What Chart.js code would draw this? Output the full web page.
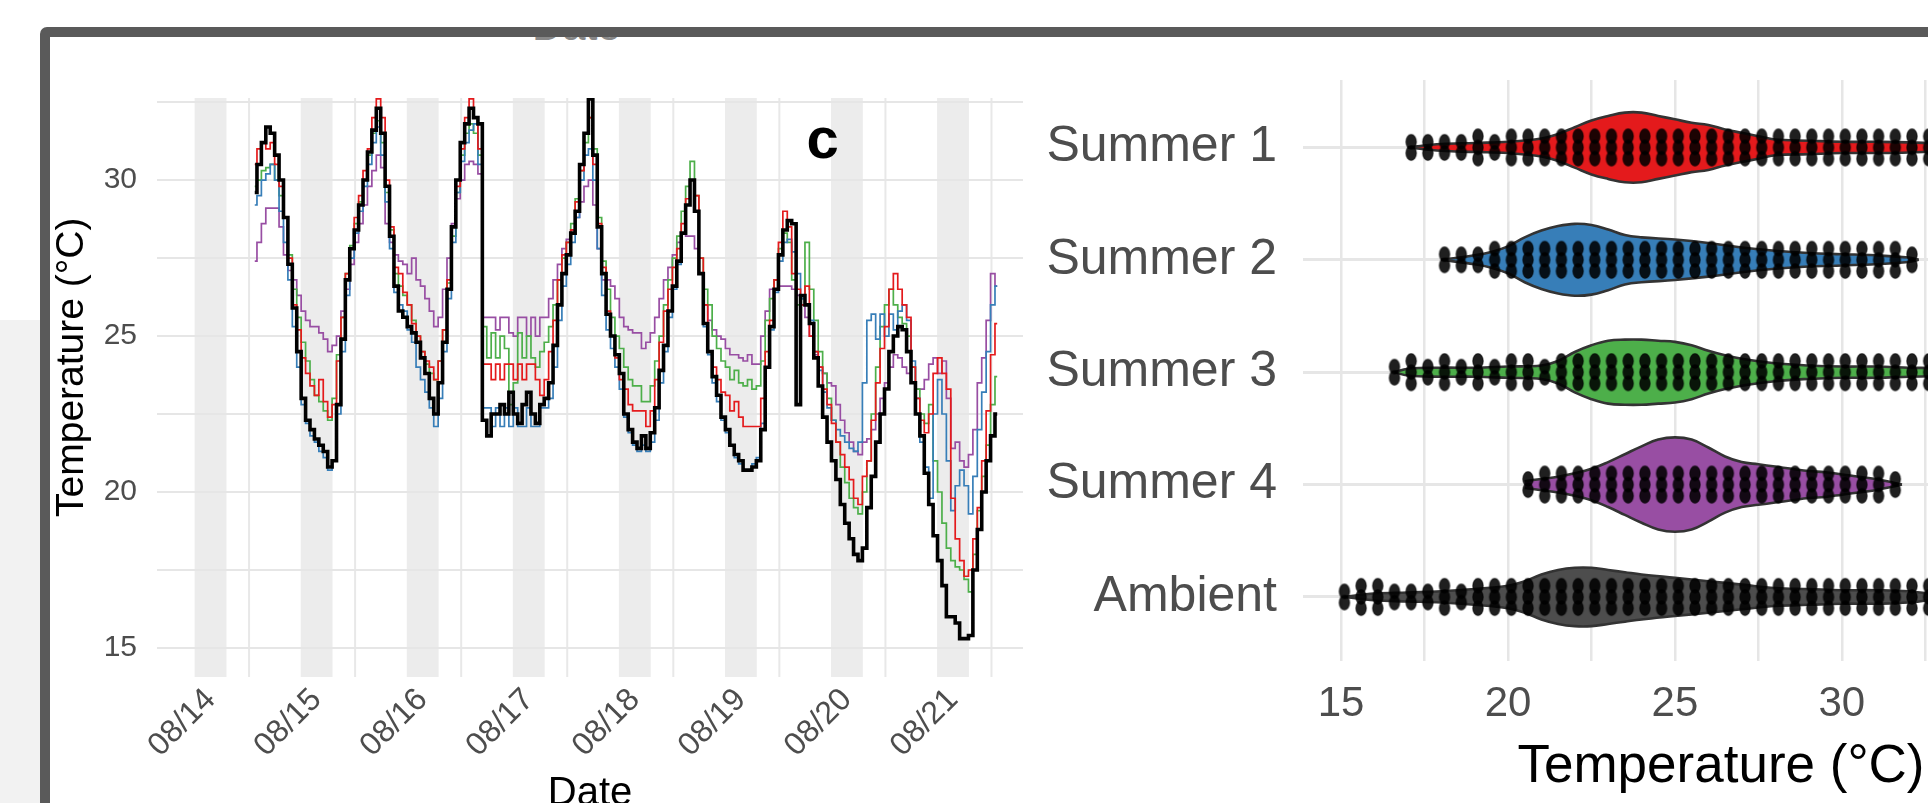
<!DOCTYPE html>
<html>
<head>
<meta charset="utf-8">
<script src="https://cdn.jsdelivr.net/npm/chart.js@4.4.1/dist/chart.umd.min.js"></script>
<style>
  html, body { margin: 0; padding: 0; width: 1928px; height: 803px; overflow: hidden; background: #fff; }
  #side { position: absolute; left: 0; top: 320px; width: 40px; height: 483px; background: #f2f2f2; }
  #frame { position: absolute; left: 40px; top: 27px; width: 1960px; height: 860px; border: 10px solid #5a5a5a;
           border-radius: 7px 0 0 0; overflow: hidden; background: #fff; }
  #prevTitle { position: absolute; left: 482px; top: -35px; line-height: 42px;
               font: 42px "Liberation Sans", Arial, sans-serif; color: #888; }
  #tempChart { position: absolute; left: 0; top: 0; }
  #violinChart { position: absolute; left: 980px; top: 0; }
</style>
</head>
<body>
<div id="side"></div>
<div id="frame">
  <div id="prevTitle">Date</div>
  <canvas id="tempChart" width="1000" height="790"></canvas>
  <canvas id="violinChart" width="1117" height="790"></canvas>
</div>
<script>
// ---- left panel: hourly temperature, first reading 08/14 10:00 ----
var firstHour = 10;
var dayTicks = [0, 1, 2, 3, 4, 5, 6, 7];
var dayLabels = ['08/14', '08/15', '08/16', '08/17', '08/18', '08/19', '08/20', '08/21'];
var nightStart = [-0.15, 0.85, 1.85, 2.85, 3.85, 4.85, 5.85, 6.85];
var nightEnd = [0.15, 1.15, 2.15, 3.15, 4.15, 5.15, 6.15, 7.15];
var dayGrid = [0.363, 1.363, 2.363, 3.363, 4.363, 5.363, 6.363, 7.363];
var tempGridLeft = [15, 17.5, 20, 22.5, 25, 27.5, 30, 32.5];

var summer1Temp = [
  30.5,31.0,31.2,31.0,31.2,30.5,29.8,28.8,27.5,26.0,25.2,24.3,23.8,23.4,
  23.1,23.6,22.9,22.4,22.8,24.2,25.6,27.0,27.8,28.8,29.5,30.3,31.0,32.0,32.6,32.0,30.0,28.5,27.2,27.0,26.4,26.0,25.4,25.0,
  24.5,24.2,24.0,23.6,24.2,25.2,26.8,28.5,29.8,31.0,32.0,32.6,32.0,31.0,24.1,24.1,23.6,24.1,23.6,24.1,24.1,23.6,24.1,23.6,
  24.1,24.1,23.6,23.1,23.6,24.5,25.5,26.8,27.6,28.0,28.4,29.3,30.3,31.5,32.0,30.5,28.6,27.2,25.8,25.0,24.3,23.6,23.3,22.8,
  22.6,22.6,22.6,22.1,22.6,23.6,24.8,25.8,26.5,27.2,27.8,28.6,29.4,30.0,29.5,27.5,26.0,24.5,24.0,23.6,23.2,23.1,22.6,22.9,
  22.4,22.1,22.1,22.1,22.1,23.0,24.5,25.5,26.8,28.0,29.0,28.5,27.0,26.5,26.0,26.6,25.0,24.5,24.0,23.3,22.8,22.2,21.6,21.2,
  20.8,20.4,19.8,19.6,20.5,21.0,22.3,23.5,24.6,25.3,26.5,27.0,26.5,26.0,25.6,24.0,23.0,22.3,21.9,22.5,23.8,24.3,23.8,23.3,
  19.8,18.5,17.8,17.3,17.5,18.5,19.5,21.0,22.6,24.4,25.4
];
var summer2Temp = [
  29.2,29.5,30.0,30.2,30.5,30.0,29.0,28.0,26.8,25.3,24.0,22.8,22.2,21.8,
  21.6,21.3,21.1,20.7,21.0,22.5,24.5,26.3,27.5,28.3,29.0,29.8,30.5,31.2,31.7,30.8,29.3,27.8,26.4,26.0,25.8,25.2,24.8,24.0,
  23.6,23.2,22.7,22.1,23.0,24.5,26.2,28.0,29.6,30.6,31.2,31.6,31.8,30.5,22.7,22.7,22.1,22.7,22.1,22.7,22.1,22.7,22.1,22.1,
  22.7,22.1,22.1,22.7,22.7,23.0,24.0,25.5,26.6,27.3,28.0,28.8,30.0,30.8,31.0,30.0,27.8,26.3,25.2,24.6,24.0,23.3,22.4,21.9,
  21.5,21.3,21.5,21.3,21.6,22.3,23.5,24.5,25.6,26.5,27.3,28.3,29.2,30.0,29.0,27.0,25.3,24.4,23.5,22.9,22.3,21.9,21.5,21.1,
  20.9,20.7,20.7,20.9,21.1,22.2,24.0,25.2,26.4,27.4,28.0,28.1,27.7,27.0,26.2,26.0,25.5,24.5,23.9,23.2,22.7,22.3,22.0,21.8,
  21.6,21.4,21.3,21.6,23.5,25.5,25.7,24.9,25.7,25.0,25.7,25.2,25.8,26.0,25.5,24.2,23.0,21.6,20.8,19.8,22.5,23.6,22.5,21.0,
  19.4,20.2,20.7,20.2,19.3,20.5,22.0,23.2,24.5,26.0,26.6
];
var summer3Temp = [
  29.8,30.0,30.3,30.4,30.5,30.0,29.5,28.8,27.6,26.5,25.6,24.8,24.2,23.6,
  23.1,22.9,22.6,22.3,23.0,24.4,25.6,27.0,27.9,28.6,29.3,30.0,30.8,31.5,31.9,31.2,29.6,28.4,27.0,26.6,26.3,26.0,25.5,25.0,
  24.5,24.1,23.8,23.6,24.2,25.2,26.7,28.2,29.6,30.8,31.5,31.8,31.5,30.8,25.3,24.3,25.1,24.3,25.0,24.6,22.8,23.5,25.1,24.3,
  25.0,24.3,24.0,24.5,24.8,25.3,26.0,26.8,27.5,28.0,28.6,29.4,30.3,31.2,32.0,31.0,28.8,27.4,26.5,25.6,25.0,24.6,24.0,23.6,
  23.4,23.4,22.9,22.9,23.4,24.2,25.0,26.0,26.8,27.5,28.2,29.0,29.8,30.6,29.5,27.5,26.5,26.0,25.0,24.6,24.2,24.0,23.6,23.9,
  23.5,23.4,23.6,23.3,23.4,24.2,25.5,26.2,26.8,27.8,28.3,28.0,26.8,26.0,26.2,28.0,26.5,25.5,24.5,23.8,23.0,22.3,21.6,20.8,
  20.3,19.8,19.5,19.3,20.0,21.0,22.5,24.0,25.3,26.0,26.5,26.0,25.6,25.4,25.0,24.0,23.3,22.5,22.2,22.8,21.0,20.0,19.0,18.2,
  17.8,17.6,17.5,17.2,16.8,18.0,19.4,20.5,21.5,22.8,23.7
];
var summer4Temp = [
  27.4,28.0,28.6,29.1,29.1,29.1,28.5,27.6,27.1,26.8,26.3,25.8,25.5,25.3,
  25.3,25.1,24.9,24.5,24.7,25.0,25.8,26.5,27.3,28.0,28.6,29.2,29.8,30.3,30.8,30.4,28.6,28.0,27.6,27.4,27.3,27.0,27.5,26.8,
  26.6,26.2,25.8,25.3,25.6,26.5,27.5,28.6,29.4,30.0,30.5,30.6,30.5,30.2,25.6,25.6,25.6,25.2,25.6,25.6,25.1,25.0,25.6,25.6,
  25.0,25.6,25.0,25.6,25.6,26.2,26.8,27.3,27.8,28.1,28.4,28.8,29.3,29.8,30.0,29.2,27.8,26.8,26.8,26.6,26.2,25.6,25.3,25.2,
  25.1,25.1,24.6,24.8,25.1,25.6,26.2,26.8,27.2,27.6,28.0,28.3,28.2,28.2,27.8,27.0,26.0,25.5,25.2,25.0,24.9,24.6,24.4,24.4,
  24.3,24.2,24.4,24.1,24.1,25.0,25.8,26.5,26.8,26.6,26.6,26.6,26.5,26.3,26.0,25.6,25.0,24.4,24.0,23.8,23.5,23.4,22.8,22.3,
  21.9,21.6,21.3,21.2,21.6,21.7,22.0,22.5,23.0,23.5,24.0,24.4,24.3,24.0,23.8,23.5,23.3,23.3,23.6,24.1,24.3,23.8,24.2,23.0,
  21.4,21.6,21.0,20.8,21.2,22.0,23.5,24.3,25.5,27.0,26.6
];
var ambientTemp = [
  29.6,30.5,31.2,31.7,31.5,30.8,30.0,28.8,27.3,25.9,24.5,23.0,22.3,22.0,
  21.7,21.5,21.3,20.8,21.0,22.8,24.9,26.8,27.8,28.4,29.2,30.0,30.9,31.6,32.3,31.5,29.8,28.2,26.6,25.8,25.6,25.3,25.1,24.8,
  24.3,23.8,23.0,22.5,23.5,24.8,26.5,28.5,30.0,31.2,31.8,32.3,32.0,31.8,22.3,21.8,22.5,22.5,22.8,22.5,23.2,22.5,22.2,22.8,
  23.2,22.5,22.2,22.8,23.0,23.5,24.7,26.0,27.0,27.6,28.3,29.0,30.5,31.5,32.6,30.8,28.5,27.0,25.7,25.0,24.4,23.8,22.5,22.0,
  21.6,21.4,21.8,21.4,21.9,22.7,23.9,24.7,25.8,26.6,27.4,28.3,29.2,30.0,29.0,27.0,25.4,24.5,23.7,23.1,22.4,22.0,21.5,21.2,
  21.0,20.7,20.7,20.8,21.0,22.0,24.0,25.3,26.5,27.6,28.4,28.7,28.6,22.8,26.3,26.0,25.4,24.3,23.4,22.4,21.6,21.0,20.4,19.6,
  19.0,18.5,18.0,17.8,18.2,19.5,20.5,21.6,22.5,23.3,24.5,25.0,25.3,25.2,24.5,23.5,22.5,21.8,20.6,19.6,18.6,17.8,17.0,16.0,
  16.0,15.8,15.3,15.3,15.4,17.5,18.8,20.0,21.0,21.8,22.5
];

// ---- right panel: distributions ----
var groups = ['Summer 1', 'Summer 2', 'Summer 3', 'Summer 4', 'Ambient'];
var violinTemps = [
  [17.0,18,19,20,21,21.5,22,22.5,23,23.5,24,24.5,25,25.5,26,26.5,27,27.5,28,29,30,31,32,33,33.6],
  [18.0,19,19.5,20,20.5,21,21.5,22,22.5,23,23.5,24,25,26,27,28,29,30,31,32,32.3],
  [16.6,17,18,19,20,21,21.5,22,22.5,23,23.5,24,24.5,25,25.5,26,26.5,27,28,29,30,31,32,33,33.3],
  [20.5,21,21.5,22,22.5,23,23.5,24,24.5,25,25.5,26,26.5,27,27.5,28,28.5,29,29.5,30,30.5,31,31.5,31.8],
  [15.1,16,17,18,19,20,20.5,21,21.5,22,22.5,23,23.5,24,25,26,27,28,29,30,31,32,32.8,33.2]
];
var violinHalf = [
  [0,0.03,0.04,0.05,0.08,0.12,0.18,0.24,0.28,0.31,0.31,0.28,0.25,0.22,0.2,0.16,0.13,0.1,0.07,0.06,0.05,0.05,0.045,0.03,0],
  [0,0.04,0.07,0.12,0.2,0.26,0.3,0.32,0.31,0.27,0.22,0.2,0.18,0.15,0.11,0.08,0.06,0.05,0.04,0.02,0],
  [0,0.03,0.04,0.04,0.05,0.06,0.1,0.18,0.24,0.28,0.29,0.29,0.28,0.27,0.24,0.19,0.15,0.12,0.08,0.06,0.05,0.05,0.04,0.03,0],
  [0.03,0.05,0.07,0.1,0.14,0.2,0.27,0.34,0.4,0.42,0.4,0.33,0.25,0.2,0.18,0.16,0.14,0.12,0.11,0.09,0.07,0.05,0.02,0],
  [0,0.03,0.04,0.05,0.07,0.1,0.14,0.2,0.24,0.26,0.26,0.24,0.22,0.2,0.17,0.14,0.11,0.08,0.07,0.06,0.06,0.05,0.02,0]
];
var dotBin = 0.5;
var dotStart = [17.1, 18.1, 16.6, 20.6, 15.1];
var dotCounts = [
  [2,2,2,2,3,2,3,3,3,3, 3,3,3,3,3,3,3,3,3,3, 3,3,3,3,3,3,3,3,3,3, 3,3,3,2],
  [2,2,2,3,3,3,3,3,3,3, 3,3,3,3,3,3,3,3,3,3, 3,3,3,3,3,3,3,3,2],
  [2,3,2,3,2,3,2,3,3,2, 3,3,3,3,3,3,3,3,3,3, 3,3,3,3,3,3,3,3,3,3, 3,3,3,2],
  [2,3,3,3,3,3,3,3,3,3, 3,3,3,3,3,3,3,3,3,3, 3,3,2],
  [2,3,3,2,2,2,3,2,3,3, 3,3,3,3,3,3,3,3,3,3, 3,3,3,3,3,3,3,3,3,3, 3,3,3,3,3,3]
];
var tempGridRight = [15, 17.5, 20, 22.5, 25, 27.5, 30, 32.5, 35, 37.5];

var font = "'Liberation Sans', Arial, sans-serif";
var groupColors = ['#e41a1c', '#377eb8', '#4daf4a', '#984ea3', '#4d4d4d'];

function toPoints(values) {
  return values.map(function (v, i) { return { x: (firstHour + i) / 24, y: v }; });
}

function noEdgePadding(ax) {
  ax.paddingTop = 0; ax.paddingBottom = 0; ax.paddingLeft = 0; ax.paddingRight = 0;
}

// night shading, day grid lines, y title and panel tag
var leftDecor = {
  id: 'leftDecor',
  beforeDraw: function (chart) {
    var ctx = chart.ctx, a = chart.chartArea, x = chart.scales.x;
    ctx.save();
    ctx.fillStyle = '#ececec';
    for (var i = 0; i < nightStart.length; i++) {
      var x0 = x.getPixelForValue(nightStart[i]);
      var x1 = x.getPixelForValue(nightEnd[i]);
      ctx.fillRect(x0, a.top, x1 - x0, a.bottom - a.top);
    }
    ctx.strokeStyle = '#e8e8e8';
    ctx.lineWidth = 2;
    dayGrid.forEach(function (d) {
      var px = x.getPixelForValue(d);
      ctx.beginPath();
      ctx.moveTo(px, a.top);
      ctx.lineTo(px, a.bottom);
      ctx.stroke();
    });
    ctx.restore();
  },
  afterDraw: function (chart) {
    var ctx = chart.ctx, a = chart.chartArea;
    ctx.save();
    ctx.font = 'bold 58px ' + font;
    ctx.fillStyle = '#000';
    ctx.textAlign = 'center';
    ctx.fillText('c', chart.scales.x.getPixelForValue(5.77), chart.scales.y.getPixelForValue(30.7));
    // y axis title, sitting a little above the panel middle as in the figure
    ctx.translate(chart.scales.y.left + 22, a.top + (a.bottom - a.top) * 0.465);
    ctx.rotate(-Math.PI / 2);
    ctx.font = '39px ' + font;
    ctx.textBaseline = 'middle';
    ctx.fillText('Temperature (°C)', 0, 0);
    ctx.restore();
  }
};

var lineSets = [
  { data: toPoints(ambientTemp), borderColor: '#000', borderWidth: 3.6, order: 0 },
  { data: toPoints(summer1Temp), borderColor: groupColors[0], borderWidth: 1.7, order: 1 },
  { data: toPoints(summer2Temp), borderColor: groupColors[1], borderWidth: 1.7, order: 1 },
  { data: toPoints(summer3Temp), borderColor: groupColors[2], borderWidth: 1.7, order: 1 },
  { data: toPoints(summer4Temp), borderColor: groupColors[3], borderWidth: 1.7, order: 1 }
];
lineSets.forEach(function (s) { s.stepped = 'middle'; s.pointRadius = 0; s.fill = false; });

new Chart(document.getElementById('tempChart'), {
  type: 'line',
  data: { datasets: lineSets },
  plugins: [leftDecor],
  options: {
    responsive: false,
    animation: false,
    layout: { padding: { top: 61, right: 27, left: 0, bottom: 0 } },
    plugins: { legend: { display: false }, tooltip: { enabled: false } },
    scales: {
      x: {
        type: 'linear', min: -0.505, max: 7.66,
        afterBuildTicks: function (ax) { ax.ticks = dayTicks.map(function (v) { return { value: v }; }); },
        afterFit: function (ax) { ax.height = 150; noEdgePadding(ax); },
        grid: { display: false, drawTicks: false },
        border: { display: false },
        ticks: {
          autoSkip: false, minRotation: 45, maxRotation: 45, padding: 4,
          color: '#4d4d4d', font: { family: font, size: 32 },
          callback: function (v, i) { return dayLabels[i]; }
        },
        title: { display: true, text: 'Date', color: '#000', font: { family: font, size: 40 }, padding: { top: 0, bottom: 9 } }
      },
      y: {
        min: 14.07, max: 32.63,
        afterBuildTicks: function (ax) { ax.ticks = tempGridLeft.map(function (v) { return { value: v }; }); },
        afterFit: function (ax) { ax.width = 107; noEdgePadding(ax); },
        grid: { color: '#e6e6e6', lineWidth: 2, drawTicks: false },
        border: { display: false },
        ticks: {
          padding: 20, color: '#4d4d4d', font: { family: font, size: 30 },
          callback: function (v) { return v % 5 === 0 ? v : ''; }
        },
        title: { display: false }
      }
    }
  }
});

// ---- right chart ----
var dotImg = document.createElement('canvas');
dotImg.width = 14; dotImg.height = 18;
var dc = dotImg.getContext('2d');
dc.beginPath();
dc.ellipse(7, 9, 5.3, 7.4, 0, 0, Math.PI * 2);
dc.fillStyle = 'rgba(0,0,0,0.88)';
dc.fill();
dc.lineWidth = 1.3;
dc.strokeStyle = 'rgba(0,0,0,0.45)';
dc.stroke();

var violinSets = [];
groups.forEach(function (g, gi) {
  var upper = violinTemps[gi].map(function (t, k) { return { x: t, y: gi - violinHalf[gi][k] }; });
  var lower = violinTemps[gi].map(function (t, k) { return { x: t, y: gi + violinHalf[gi][k] }; });
  violinSets.push({ data: upper, borderColor: '#333', borderWidth: 2.6, pointRadius: 0, tension: 0.4, fill: false, order: 2 });
  violinSets.push({ data: lower, borderColor: '#333', borderWidth: 2.6, pointRadius: 0, tension: 0.4, fill: '-1', backgroundColor: groupColors[gi], order: 2 });
});

var dotGap = 0.1;
var dotPoints = [];
groups.forEach(function (g, gi) {
  dotCounts[gi].forEach(function (n, k) {
    var t = dotStart[gi] + k * dotBin;
    for (var j = 0; j < n; j++) {
      dotPoints.push({ x: t, y: gi + (j - (n - 1) / 2) * dotGap });
    }
  });
});

new Chart(document.getElementById('violinChart'), {
  type: 'line',
  data: {
    datasets: violinSets.concat([{
      data: dotPoints, showLine: false, pointStyle: dotImg, pointRadius: 7, order: 0
    }])
  },
  options: {
    responsive: false,
    animation: false,
    layout: { padding: { top: 43, right: 0, left: 0, bottom: 0 } },
    plugins: { legend: { display: false }, tooltip: { enabled: false } },
    scales: {
      x: {
        type: 'linear', min: 13.86, max: 38.9,
        afterBuildTicks: function (ax) { ax.ticks = tempGridRight.map(function (v) { return { value: v }; }); },
        afterFit: function (ax) { ax.height = 166; noEdgePadding(ax); },
        grid: { color: '#e6e6e6', lineWidth: 2.5, drawTicks: false },
        border: { display: false },
        ticks: {
          autoSkip: false, maxRotation: 0, padding: 18, color: '#4d4d4d', font: { family: font, size: 42 },
          callback: function (v) { return v % 5 === 0 ? v : ''; }
        },
        title: { display: true, text: 'Temperature (°C)', color: '#000', font: { family: font, size: 53 }, padding: { top: 0, bottom: 28 } }
      },
      y: {
        type: 'linear', reverse: true, min: -0.6, max: 4.57,
        afterBuildTicks: function (ax) { ax.ticks = groups.map(function (g, i) { return { value: i }; }); },
        afterFit: function (ax) { ax.width = 273; noEdgePadding(ax); },
        grid: { color: '#e6e6e6', lineWidth: 3, drawTicks: false },
        border: { display: false },
        ticks: {
          padding: 26, color: '#4d4d4d', font: { family: font, size: 50 },
          callback: function (v, i) { return groups[i]; }
        }
      }
    }
  }
});
</script>
</body>
</html>
